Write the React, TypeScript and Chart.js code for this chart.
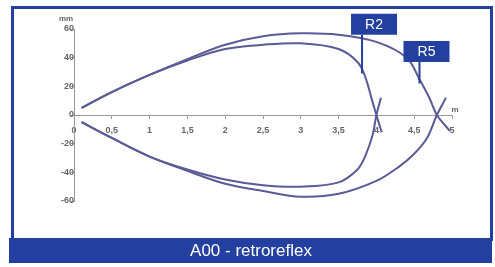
import { useEffect, useRef } from 'react';
import { Chart, registerables } from 'chart.js';

Chart.register(...registerables);

// --- data (x in m, y in mm) ---
const r2UpperX = [0.1, 0.5, 1.0, 1.5, 2.0, 2.5, 3.0, 3.5, 3.75, 3.85, 3.95, 4.0, 4.07];
const r2UpperY = [5, 16, 28, 38, 46, 49, 50, 46, 37, 27, 9, 0, -12];
const r2LowerX = [0.1, 0.5, 1.0, 1.5, 2.0, 2.5, 3.0, 3.5, 3.75, 3.85, 3.95, 4.0, 4.06];
const r2LowerY = [-5, -16, -29, -38, -45, -49, -50, -47, -38, -29, -14, 0, 12];
const r5UpperX = [0.1, 0.5, 1.0, 1.5, 2.0, 2.5, 3.0, 3.5, 4.0, 4.4, 4.57, 4.7, 4.8, 4.97];
const r5UpperY = [5, 16, 28, 39, 49, 55, 57, 56, 51, 40, 25, 12, 0, -11];
const r5LowerX = [0.1, 0.5, 1.0, 1.5, 2.0, 2.5, 3.0, 3.5, 4.0, 4.3, 4.5, 4.67, 4.8, 4.92];
const r5LowerY = [-5, -16, -29, -39, -48, -53, -57, -55, -46, -36, -27, -16, 0, 12];

const xTicks = [0, 0.5, 1, 1.5, 2, 2.5, 3, 3.5, 4, 4.5, 5];
const yTicks = [-60, -40, -20, 0, 20, 40, 60];

const labelNames = ['R2', 'R5'];
const labelAnchorX = [3.81, 4.57];
const labelAnchorY = [29, 22];
const labelBoxY = [56, 37];

const title = 'A00 - retroreflex';
const xUnit = 'm';
const yUnit = 'mm';

const LINE = '#5a5a96';
const BLUE = '#2340a0';

const pts = (xs: number[], ys: number[]) => xs.map((x, i) => ({ x, y: ys[i] }));

export default function App() {
  const ref = useRef<HTMLCanvasElement>(null);

  useEffect(() => {
    if (!ref.current) return;
    const framePlugin = {
      id: 'frame',
      beforeDraw(chart: any) {
        const ctx = chart.ctx;
        ctx.save();
        ctx.fillStyle = '#ffffff';
        ctx.fillRect(0, 0, chart.width, chart.height);
        ctx.strokeStyle = BLUE;
        ctx.lineWidth = 3;
        ctx.strokeRect(12.5, 7.5, 479, 232);
        ctx.fillStyle = BLUE;
        ctx.fillRect(9, 238, 483, 25);
        ctx.fillStyle = '#ffffff';
        ctx.font = '17px "Liberation Sans", Arial, sans-serif';
        ctx.textAlign = 'center';
        ctx.textBaseline = 'middle';
        ctx.fillText(title, 251, 251);
        ctx.restore();
      },
      afterDraw(chart: any) {
        const ctx = chart.ctx;
        const xs = chart.scales.x;
        const ys = chart.scales.y;
        ctx.save();
        // unit labels
        ctx.fillStyle = '#666';
        ctx.font = 'bold 8px "Liberation Sans", Arial, sans-serif';
        ctx.textAlign = 'center';
        ctx.textBaseline = 'middle';
        ctx.fillText(yUnit, xs.getPixelForValue(0) - 8, ys.getPixelForValue(60) - 10);
        ctx.fillText(xUnit, xs.getPixelForValue(5) + 3, ys.getPixelForValue(0) - 5);
        // callouts
        const offs = [12, 7];
        labelNames.forEach((name, i) => {
          const ax = xs.getPixelForValue(labelAnchorX[i]);
          const ay = ys.getPixelForValue(labelAnchorY[i]);
          const by = ys.getPixelForValue(labelBoxY[i]);
          ctx.strokeStyle = BLUE;
          ctx.lineWidth = 2;
          ctx.beginPath();
          ctx.moveTo(ax, by);
          ctx.lineTo(ax, ay);
          ctx.stroke();
          const w = 46, h = 21;
          const cx = ax + offs[i];
          ctx.fillStyle = BLUE;
          ctx.fillRect(cx - w / 2, by - h, w, h);
          ctx.fillStyle = '#ffffff';
          ctx.font = '14px "Liberation Sans", Arial, sans-serif';
          ctx.textAlign = 'center';
          ctx.textBaseline = 'middle';
          ctx.fillText(name, cx, by - h / 2 + 1);
        });
        ctx.restore();
      },
    };

    const ds = (xs: number[], ys: number[]) => ({
      data: pts(xs, ys),
      showLine: true,
      borderColor: LINE,
      backgroundColor: LINE,
      borderWidth: 2,
      pointRadius: 0,
      tension: 0.35,
      fill: false,
    });

    const tickFont = { family: '"Liberation Sans", Arial, sans-serif', size: 9, weight: 'bold' as const };

    const chart = new Chart(ref.current, {
      type: 'scatter',
      data: {
        datasets: [
          ds(r2UpperX, r2UpperY),
          ds(r2LowerX, r2LowerY),
          ds(r5UpperX, r5UpperY),
          ds(r5LowerX, r5LowerY),
        ],
      },
      options: {
        responsive: false,
        animation: false,
        layout: { padding: { left: 74, right: 43, top: 29, bottom: 66 } },
        plugins: { legend: { display: false }, tooltip: { enabled: false } },
        scales: {
          x: {
            type: 'linear',
            position: { y: 0 } as any,
            min: 0,
            max: 5,
            afterBuildTicks: (s: any) => { s.ticks = xTicks.map((v) => ({ value: v })); },
            ticks: {
              color: '#666',
              font: tickFont,
              padding: 7,
              maxRotation: 0,
              autoSkip: false,
              callback: (v: any) => String(v).replace('.', ','),
            },
            grid: { drawOnChartArea: false, drawTicks: true, tickLength: 3, color: '#999' },
            border: { display: true, color: '#999', width: 1 },
          },
          y: {
            type: 'linear',
            position: { x: 0 } as any,
            min: -60,
            max: 60,
            afterBuildTicks: (s: any) => { s.ticks = yTicks.map((v) => ({ value: v })); },
            ticks: { color: '#666', font: tickFont, padding: 6, autoSkip: false },
            grid: { drawOnChartArea: false, drawTicks: true, tickLength: 3, color: '#999' },
            border: { display: true, color: '#999', width: 1 },
          },
        },
      },
      plugins: [framePlugin],
    });
    return () => chart.destroy();
  }, []);

  return (
    <div style={{ position: 'absolute', left: 0, top: 0, width: 495, height: 267 }}>
      <canvas ref={ref} width={495} height={267} style={{ display: 'block' }} />
    </div>
  );
}
